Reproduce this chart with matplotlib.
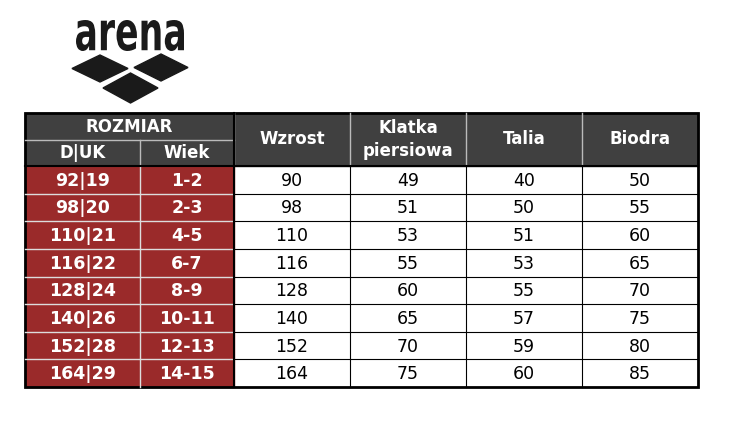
import matplotlib
matplotlib.use("Agg")
import matplotlib.pyplot as plt
from matplotlib.patches import Rectangle, Polygon, PathPatch
from matplotlib.textpath import TextPath
from matplotlib.font_manager import FontProperties
from matplotlib.transforms import Affine2D

sizes = ["92|19", "98|20", "110|21", "116|22", "128|24", "140|26", "152|28", "164|29"]
ages = ["1-2", "2-3", "4-5", "6-7", "8-9", "10-11", "12-13", "14-15"]
height = [90, 98, 110, 116, 128, 140, 152, 164]
chest = [49, 51, 53, 55, 60, 65, 70, 75]
waist = [40, 50, 51, 53, 55, 57, 59, 60]
hips = [50, 55, 60, 65, 70, 75, 80, 85]
headers = ["Wzrost", "Klatka\npiersiowa", "Talia", "Biodra"]

fig = plt.figure(figsize=(7.3, 4.25), dpi=100)
ax = fig.add_axes([0, 0, 1, 1])
ax.set_xlim(0, 730)
ax.set_ylim(425, 0)
ax.axis("off")

dark = "#404040"
red = "#9a2a2a"
xs = [25, 140, 234, 350, 466, 582, 698]
y0, y1, y2, yend = 113, 140, 166, 387
rh = (yend - y2) / len(sizes)

# logo: condensed bold text fitted into its box
tp = TextPath((0, 0), "arena", size=1, prop=FontProperties(family="DejaVu Sans", weight="bold"))
bb = tp.get_extents()
lx0, lx1, ly0, ly1 = 76, 184, 20, 51
tr = (Affine2D().translate(-bb.x0, -bb.y0)
      .scale((lx1 - lx0) / bb.width, -(ly1 - ly0) / bb.height)
      .translate(lx0, ly1))
ax.add_patch(PathPatch(tr.transform_path(tp), color="#1a1a1a", lw=0))
for (l, r, t, b) in [(72, 128, 55, 82), (134, 188, 54, 81), (103, 158, 73, 103)]:
    cx, cy = (l + r) / 2, (t + b) / 2
    ax.add_patch(Polygon([(l, cy), (cx, t), (r, cy), (cx, b)], closed=True, color="#1a1a1a"))

# header
ax.add_patch(Rectangle((xs[0], y0), xs[-1] - xs[0], y2 - y0, color=dark))
ax.text((xs[0] + xs[2]) / 2, (y0 + y1) / 2, "ROZMIAR", ha="center", va="center",
        color="white", fontsize=12, fontweight="bold")
ax.text((xs[0] + xs[1]) / 2, (y1 + y2) / 2, "D|UK", ha="center", va="center",
        color="white", fontsize=12, fontweight="bold")
ax.text((xs[1] + xs[2]) / 2, (y1 + y2) / 2, "Wiek", ha="center", va="center",
        color="white", fontsize=12, fontweight="bold")
for i, h in enumerate(headers):
    ax.text((xs[i + 2] + xs[i + 3]) / 2, (y0 + y2) / 2, h, ha="center", va="center",
            color="white", fontsize=12, fontweight="bold", linespacing=1.4)
ax.plot([xs[0], xs[2]], [y1, y1], color="#bbbbbb", lw=1)
for x in xs[1:-1]:
    ax.plot([x, x], [y1 if x == xs[1] else y0, y2], color="#bbbbbb", lw=1)

# body
ax.add_patch(Rectangle((xs[0], y2), xs[2] - xs[0], yend - y2, color=red))
cols = [sizes, ages, height, chest, waist, hips]
for r in range(len(sizes)):
    yc = y2 + (r + 0.5) * rh
    for c, col in enumerate(cols):
        bold = c < 2
        ax.text((xs[c] + xs[c + 1]) / 2, yc + 1, str(col[r]), ha="center", va="center",
                color="white" if bold else "black", fontsize=12.5,
                fontweight="bold" if bold else "normal")
    if r:
        ax.plot([xs[0], xs[2]], [y2 + r * rh] * 2, color="#dddddd", lw=1)
        ax.plot([xs[2], xs[-1]], [y2 + r * rh] * 2, color="black", lw=0.8)
ax.plot([xs[1], xs[1]], [y2, yend], color="#dddddd", lw=1)
for x in xs[3:-1]:
    ax.plot([x, x], [y2, yend], color="black", lw=0.8)
ax.plot([xs[0], xs[-1]], [y2, y2], color="black", lw=1.5)
ax.plot([xs[2], xs[2]], [y0, yend], color="black", lw=1.5)
ax.add_patch(Rectangle((xs[0], y0), xs[-1] - xs[0], yend - y0, fill=False,
                       edgecolor="black", lw=2))

fig.savefig("out.png", dpi=100)
